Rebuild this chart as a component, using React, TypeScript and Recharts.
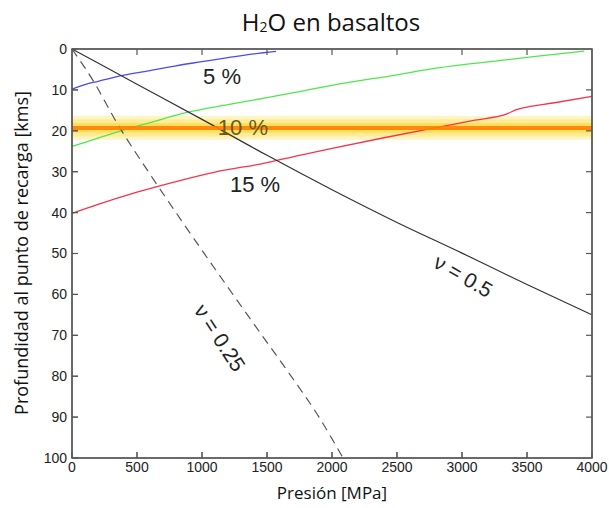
import React from 'react';
import { LineChart, Line, XAxis, YAxis, ReferenceArea, ReferenceLine, ReferenceDot } from 'recharts';

// Tick values
const pressureTicks = [0, 500, 1000, 1500, 2000, 2500, 3000, 3500, 4000];
const depthTicks = [0, 10, 20, 30, 40, 50, 60, 70, 80, 90, 100];

// Water content curves (pressure MPa -> depth km)
const water5 = [
  { p: 0, d: 9.8 }, { p: 100, d: 8.7 }, { p: 200, d: 7.9 }, { p: 400, d: 6.4 },
  { p: 600, d: 5.3 }, { p: 800, d: 4.1 }, { p: 1000, d: 3.1 }, { p: 1200, d: 2.1 },
  { p: 1400, d: 1.2 }, { p: 1570, d: 0.6 },
];
const water10 = [
  { p: 0, d: 23.8 }, { p: 200, d: 21.8 }, { p: 400, d: 19.8 }, { p: 600, d: 18.0 },
  { p: 900, d: 15.4 }, { p: 1200, d: 13.6 }, { p: 1500, d: 11.9 }, { p: 1750, d: 10.4 },
  { p: 2000, d: 8.9 }, { p: 2500, d: 6.3 }, { p: 2800, d: 4.7 }, { p: 3300, d: 2.8 },
  { p: 3600, d: 1.7 }, { p: 3940, d: 0.5 },
];
const water15 = [
  { p: 0, d: 40.2 }, { p: 200, d: 38.0 }, { p: 500, d: 35.0 }, { p: 800, d: 32.4 },
  { p: 1100, d: 30.1 }, { p: 1500, d: 27.8 }, { p: 1750, d: 26.0 }, { p: 2000, d: 24.3 },
  { p: 2400, d: 21.7 }, { p: 2800, d: 19.2 }, { p: 3100, d: 17.4 }, { p: 3350, d: 15.8 },
  { p: 3420, d: 14.8 }, { p: 3500, d: 14.2 }, { p: 3700, d: 13.2 }, { p: 4000, d: 11.6 },
];

// Poisson ratio lines
const poisson05 = [
  { p: 0, d: 0 }, { p: 500, d: 8.6 }, { p: 1000, d: 17.2 }, { p: 1500, d: 26.0 },
  { p: 2000, d: 34.4 }, { p: 2500, d: 42.4 }, { p: 3000, d: 49.9 }, { p: 3500, d: 57.6 },
  { p: 4000, d: 65.0 },
];
const poisson025 = [
  { p: 0, d: 0 }, { p: 160, d: 7.6 }, { p: 344, d: 18.0 }, { p: 600, d: 30.6 },
  { p: 856, d: 42.6 }, { p: 1200, d: 58.3 }, { p: 1450, d: 69.5 }, { p: 1677, d: 79.6 },
  { p: 1900, d: 90.0 }, { p: 2085, d: 100 },
];

// Recharge depth level and its uncertainty band (outer to inner glow)
const rechargeDepth = 19.3;
const bandLayers = [
  { y1: 16.4, y2: 22.2, fill: '#fff5c4' },
  { y1: 17.2, y2: 21.4, fill: '#ffec94' },
  { y1: 18.1, y2: 20.5, fill: '#ffdf60' },
];

// Axis limits
const pMin = 0;
const pMax = 4000;
const dMin = 0;
const dMax = 100;

// Chart geometry
const W = 609;
const H = 508;
const margin = { top: 48, right: 16, bottom: 0, left: 0 };
const xAxisHeight = 50;
const yAxisWidth = 72;
const plot = {
  left: margin.left + yAxisWidth,
  right: W - margin.right - 1,
  top: margin.top + 1,
  bottom: H - margin.bottom - xAxisHeight,
};
const tickLen = 6;

const tickFont = { fontFamily: '"Liberation Sans Narrow", "Arial Narrow", "Liberation Sans", sans-serif', fontSize: 14, fill: '#222' };
const frameColor = '#555';

type Annot = { p: number; d: number; text: string; angle: number; size: number; color: string };
const annotations: Annot[] = [
  { p: 1154, d: 6.8, text: '5 %', angle: 0, size: 22, color: '#222' },
  { p: 1315, d: 19.3, text: '10 %', angle: 0, size: 22, color: '#6a5a18' },
  { p: 1408, d: 33.2, text: '15 %', angle: 0, size: 22, color: '#222' },
  { p: 3010, d: 55.5, text: 'ν = 0.5', angle: 30, size: 21, color: '#222' },
  { p: 1138, d: 70.6, text: 'ν = 0.25', angle: 57, size: 21, color: '#222' },
];

// Frame tick positions along the plot box edges
const frameX = (p: number) => plot.left + ((p - pMin) / (pMax - pMin)) * (plot.right - plot.left);
const frameY = (d: number) => plot.top + ((d - dMin) / (dMax - dMin)) * (plot.bottom - plot.top);

export default function App() {
  const ax = { xAxisId: 'bottom', yAxisId: 'left' } as const;
  return (
    <div style={{ position: 'absolute', left: 0, top: 0, width: W, height: H, background: '#fff' }}>
      <LineChart width={W} height={H} margin={margin}>
        <XAxis
          xAxisId="bottom"
          dataKey="p"
          type="number"
          domain={[pMin, pMax]}
          ticks={pressureTicks}
          height={xAxisHeight}
          tickSize={-6}
          tickMargin={10}
          stroke={frameColor}
          tick={tickFont}
        />
        <XAxis
          xAxisId="top"
          orientation="top"
          dataKey="p"
          type="number"
          domain={[pMin, pMax]}
          ticks={pressureTicks}
          height={1}
          tickSize={-6}
          stroke={frameColor}
          tick={false}
        />
        <YAxis
          yAxisId="left"
          dataKey="d"
          type="number"
          domain={[dMin, dMax]}
          reversed
          ticks={depthTicks}
          width={yAxisWidth}
          tickSize={-6}
          tickMargin={11}
          stroke={frameColor}
          tick={tickFont}
        />
        <YAxis
          yAxisId="right"
          orientation="right"
          dataKey="d"
          type="number"
          domain={[dMin, dMax]}
          reversed
          ticks={depthTicks}
          width={1}
          tickSize={-6}
          stroke={frameColor}
          tick={false}
        />
        {bandLayers.map((b) => (
          <ReferenceArea key={b.fill} {...ax} x1={pMin} x2={pMax} y1={b.y1} y2={b.y2} fill={b.fill} fillOpacity={1} stroke="none" />
        ))}
        <Line {...ax} data={water5} dataKey="d" stroke="#4b4bf0" strokeWidth={1.3} dot={false} isAnimationActive={false} type="monotone" />
        <Line {...ax} data={water10} dataKey="d" stroke="#4ee84e" strokeWidth={1.3} dot={false} isAnimationActive={false} type="monotone" />
        <Line {...ax} data={water15} dataKey="d" stroke="#f5344a" strokeWidth={1.3} dot={false} isAnimationActive={false} type="monotone" />
        <Line {...ax} data={poisson05} dataKey="d" stroke="#333" strokeWidth={1.2} dot={false} isAnimationActive={false} type="monotone" />
        <Line {...ax} data={poisson025} dataKey="d" stroke="#555" strokeWidth={1.2} strokeDasharray="9 6" dot={false} isAnimationActive={false} type="monotone" />
        <ReferenceLine {...ax} y={rechargeDepth} stroke="#ff7f00" strokeWidth={4} strokeOpacity={0.9} />

        {annotations.map((a) => (
          <ReferenceDot
            key={a.text}
            {...ax}
            x={a.p}
            y={a.d}
            r={0}
            shape={(props: any) => (
              <text
                x={props.cx}
                y={props.cy}
                transform={`rotate(${a.angle} ${props.cx} ${props.cy})`}
                textAnchor="middle"
                dominantBaseline="central"
                fontFamily='"Liberation Sans", Arial, sans-serif'
                fontSize={a.size}
                fill={a.color}
              >
                {a.text}
              </text>
            )}
          />
        ))}
      </LineChart>
      <svg width={W} height={H} style={{ position: 'absolute', left: 0, top: 0, pointerEvents: 'none' }}>
        {/* plot box with inward ticks */}
        <rect
          x={plot.left}
          y={plot.top}
          width={plot.right - plot.left}
          height={plot.bottom - plot.top}
          fill="none"
          stroke={frameColor}
          strokeWidth={1.5}
        />
        {pressureTicks.slice(1, -1).map((t) => (
          <g key={`xt${t}`} stroke={frameColor} strokeWidth={1.2}>
            <line x1={frameX(t)} x2={frameX(t)} y1={plot.bottom} y2={plot.bottom - tickLen} />
            <line x1={frameX(t)} x2={frameX(t)} y1={plot.top} y2={plot.top + tickLen} />
          </g>
        ))}
        {depthTicks.slice(1, -1).map((t) => (
          <g key={`yt${t}`} stroke={frameColor} strokeWidth={1.2}>
            <line x1={plot.left} x2={plot.left + tickLen} y1={frameY(t)} y2={frameY(t)} />
            <line x1={plot.right} x2={plot.right - tickLen} y1={frameY(t)} y2={frameY(t)} />
          </g>
        ))}
        <text x={331} y={31} textAnchor="middle" fontFamily='"Open Sans", sans-serif' fontSize={24} fill="#111">
          H<tspan fontSize={14} dy={1}>2</tspan><tspan dy={-1}>O en basaltos</tspan>
        </text>
        <text
          x={0}
          y={0}
          transform="translate(28 253) rotate(-90)"
          textAnchor="middle"
          fontFamily='"Open Sans", sans-serif'
          fontSize={18}
          fill="#111"
        >
          Profundidad al punto de recarga [kms]
        </text>
        <text x={332} y={499} textAnchor="middle" fontFamily='"Open Sans", sans-serif' fontSize={17} fill="#111">
          Presión [MPa]
        </text>
      </svg>
    </div>
  );
}
